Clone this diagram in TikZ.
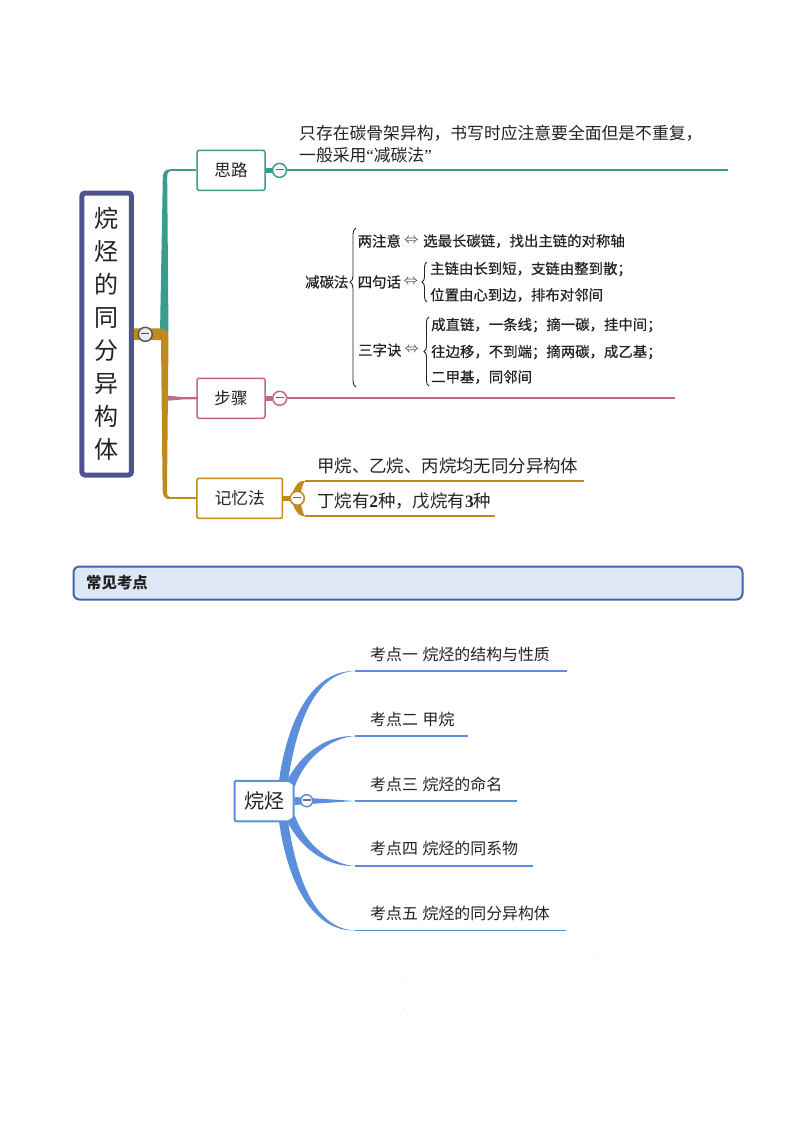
\documentclass[tikz,border=0pt]{standalone}
\usepackage{fontspec}
\setmainfont{Noto Sans CJK SC}
\newfontfamily\latinserif{Liberation Serif}
\newfontfamily\cjkmedium[FakeBold=0.5]{Noto Sans CJK SC}
\usepackage{xcolor}
\usetikzlibrary{calc}
\usetikzlibrary{positioning,arrows.meta,decorations.pathreplacing}
\definecolor{rootblue}{HTML}{4F5491}
\definecolor{tealc}{HTML}{3A9C8E}
\definecolor{rosec}{HTML}{BE6A80}
\definecolor{goldc}{HTML}{BF8A1D}
\definecolor{treeblue}{HTML}{5B8FDB}
\definecolor{bannerfill}{HTML}{DDE7F5}
\definecolor{bannerline}{HTML}{3B68AC}
\definecolor{inkc}{HTML}{222222}
\tikzset{
    lbl/.style={anchor=west, inner sep=0pt, text=inkc},
    lblbig/.style={lbl, font=\fontsize{16.8}{22}\selectfont, align=left},
    lbljiyi/.style={lbl, font=\fontsize{17.4}{22}\selectfont},
    lblsmall/.style={lbl, font=\fontsize{14.4}{18}\selectfont\cjkmedium},
    lbleq/.style={lbl, font=\fontsize{14.4}{18}\selectfont},
    lblkao/.style={lbl, font=\fontsize{15.9}{18}\selectfont},
    branchbox/.style={draw, fill=white, rounded corners=2pt, line width=1.5pt, text=inkc, minimum height=40pt, font=\fontsize{16.6}{20}\selectfont},
    collapse/.style={draw, circle, fill=white, line width=1.5pt, inner sep=0pt, minimum size=14pt, font=\fontsize{6}{6}\selectfont},
    bracel/.style={draw=inkc, line width=0.9pt, decorate, decoration={brace, amplitude=5pt}},
}
\newcommand{\minusbar}[1]{\textcolor{#1}{\rule[1.6pt]{8pt}{1.5pt}}}
\newcommand{\latn}[1]{{\latinserif #1}}
\begin{document}
\begin{tikzpicture}[x=1pt, y=-1pt]
            \useasboundingbox (0,0) rectangle (800,1132);
            \fill[white] (0,0) rectangle (800,1132);

            \draw (106.7,334) node[draw=rootblue, fill=white, rounded corners=3pt, line width=5pt, minimum width=49.5pt, minimum height=282pt, inner sep=0pt, text=inkc, align=center, font=\fontsize{24}{33}\selectfont] (root) {烷\\烃\\的\\同\\分\\异\\构\\体};

            \draw (231,170.4) node[branchbox, draw=tealc, minimum width=68pt] (silu) {思路};
            \draw (231,398.3) node[branchbox, draw=rosec, minimum width=68pt] (buzhou) {步骤};
            \draw (239.7,498.3) node[branchbox, draw=goldc, minimum width=85.5pt] (jiyi) {记忆法};

            \coordinate (siluend) at (728,170.4);
            \coordinate (silucorner) at (170,170.4);
            \coordinate (buzhouend) at (675,398.3);
            \coordinate (jiyicorner) at (170,498.3);
            \coordinate (forkup) at (305,481);
            \coordinate (forkupend) at (584,481);
            \coordinate (forkdown) at (305,516);
            \coordinate (forkdownend) at (495,516);
            \coordinate (forkroot) at (290,498.3);

            \fill[tealc] (160,333) -- (162.8,178) .. controls (163,172) and (165,169.4) .. (170,169.4) -- (170,171.4) .. controls (168,171.4) and (167.2,173) .. (167.2,178) -- (168.5,333) -- cycle;
            \draw[tealc, line width=2pt] (silucorner) -- (silu.west);
            \fill[rosec] (167,395.6) -- (183,397.2) -- (197,397.2) -- (197,399.4) -- (183,399.4) -- (167,400.8) -- cycle;
            \fill[goldc] (root.east |- 0,328.4) -- (160,328.4) .. controls (166,328.4) and (168.5,331) .. (168.5,338) -- (167,490) .. controls (167,495.5) and (168,497.3) .. (170,497.3) -- (170,499.3) .. controls (165,499.3) and (162.8,496) .. (162.6,490) -- (161,340) -- (root.east |- 0,340) -- cycle;
            \draw[goldc, line width=2pt] (jiyicorner) -- (jiyi.west);

            \draw (145.3,334.3) node[collapse, draw=black!65, fill=black!8] (rootminus) {\minusbar{black!70}};
            \draw (279.5,170.4) node[collapse, draw=tealc] (siluminus) {\minusbar{black!60}};
            \draw (279.7,398.3) node[collapse, draw=rosec] (buzhouminus) {\minusbar{black!60}};

            \draw[tealc, line width=4.5pt] (silu.east) -- (siluminus.west);
            \draw[rosec, line width=4.5pt] (buzhou.east) -- (buzhouminus.west);
            \draw[goldc, line width=5pt] (jiyi.east) -- (forkroot);
            \draw[tealc, line width=2pt] (siluminus.east) -- (siluend);
            \draw[rosec, line width=2pt] (buzhouminus.east) -- (buzhouend);
            \draw[goldc, line width=2pt] (forkup) -- (forkupend);
            \draw[goldc, line width=2pt] (forkdown) -- (forkdownend);
            \fill[goldc] (291,498) .. controls (294,487) and (298,480) .. (forkup) .. controls (303,483) and (301,490) .. (300,498) -- cycle;
            \fill[goldc] (291,498) .. controls (294,509) and (298,517) .. (forkdown) .. controls (303,514) and (301,506) .. (300,498) -- cycle;

            \draw (297.3,498.3) node[collapse, draw=goldc] (jiyiminus) {\minusbar{black!60}};

            \draw (299,144) node[lblbig] (silutext) {只存在碳骨架异构，书写时应注意要全面但是不重复，\\一般采用\latn{“}减碳法\latn{”}};
            \draw (317,466) node[lbljiyi] (jiyione) {甲烷、乙烷、丙烷均无同分异构体};
            \draw (317,501) node[lbljiyi] (jiyitwo) {丁烷有\textbf{\latn{2}}种，戊烷有\textbf{\latn{3}}种};

            \draw (305,282) node[lblsmall] (jiantan) {减碳法};
            \draw (357.5,241) node[lblsmall] (liang) {两注意};
            \draw (404,241) node[lbleq] (liangeq) {$\Leftrightarrow$};
            \draw (423,241) node[lblsmall] (liangtext) {选最长碳链，找出主链的对称轴};
            \draw (357.5,282) node[lblsmall] (siju) {四句话};
            \draw (403.5,282) node[lbleq] (sijueq) {$\Leftrightarrow$};
            \draw (430,269) node[lblsmall] (sijuone) {主链由长到短，支链由整到散；};
            \draw (430,295) node[lblsmall] (sijutwo) {位置由心到边，排布对邻间};
            \draw (358,350) node[lblsmall] (sanzi) {三字诀};
            \draw (404.5,350) node[lbleq] (sanzieq) {$\Leftrightarrow$};
            \draw (431,325) node[lblsmall] (sanzione) {成直链，一条线；摘一碳，挂中间；};
            \draw (431,352) node[lblsmall] (sanzitwo) {往边移，不到端；摘两碳，成乙基；};
            \draw (431,377) node[lblsmall] (sanzithree) {二甲基，同邻间};

            \draw[bracel, decoration={amplitude=6pt, aspect=0.66}] (356,387) -- (356,228);
            \draw[bracel] (427,302) -- (427,262);
            \draw[bracel] (429,386) -- (429,317);

            \draw (408,583) node[draw=bannerline, fill=bannerfill, rounded corners=6pt, line width=2pt, minimum width=669pt, minimum height=33pt, inner sep=0pt] (banner) {};
            \draw (86,583) node[lbl, font=\fontsize{15.4}{18}\selectfont\bfseries] (bannertext) {常见考点};

            \draw (264,801) node[draw=treeblue, fill=white, rounded corners=2pt, line width=2pt, minimum width=59pt, minimum height=40.5pt, inner sep=0pt, text=inkc, font=\fontsize{20}{24}\selectfont] (alkane) {烷烃};

            \coordinate (kaoa) at (355,671);
            \coordinate (kaoaend) at (567,671);
            \coordinate (kaob) at (355,736);
            \coordinate (kaobend) at (468,736);
            \coordinate (kaoc) at (355,801);
            \coordinate (kaocend) at (517,801);
            \coordinate (kaod) at (355,866);
            \coordinate (kaodend) at (533,866);
            \coordinate (kaoe) at (355,930.5);
            \coordinate (kaoeend) at (566,930.5);

            \fill[treeblue] (279,781) .. controls (288,715) and (315,670) .. (kaoa) .. controls (318,673) and (298,715) .. (288,781) -- cycle;
            \fill[treeblue] (287,781) .. controls (300,755) and (325,735) .. (kaob) .. controls (330,738) and (305,758) .. (295,786) -- cycle;
            \fill[treeblue] (287,821) .. controls (300,847) and (325,867) .. (kaod) .. controls (330,864) and (305,844) .. (295,816) -- cycle;
            \fill[treeblue] (279,821) .. controls (288,887) and (315,931.5) .. (kaoe) .. controls (318,928.5) and (298,887) .. (288,821) -- cycle;
            \fill[treeblue] (alkane.east |- 0,797) -- (kaoc) -- (alkane.east |- 0,805) -- cycle;

            \draw[treeblue, line width=1.8pt] (kaoa) -- (kaoaend);
            \draw[treeblue, line width=1.8pt] (kaob) -- (kaobend);
            \draw[treeblue, line width=1.8pt] (kaoc) -- (kaocend);
            \draw[treeblue, line width=1.8pt] (kaod) -- (kaodend);
            \draw[treeblue, line width=1.8pt] (kaoe) -- (kaoeend);

            \draw (306.7,800.7) node[collapse, draw=treeblue, minimum size=12pt] (alkaneminus) {\minusbar{black!55}};

            \draw (370,654) node[lblkao] (kaoone) {考点一\hspace{.3em}烷烃的结构与性质};
            \draw (370,719) node[lblkao] (kaotwo) {考点二\hspace{.3em}甲烷};
            \draw (370,784) node[lblkao] (kaothree) {考点三\hspace{.3em}烷烃的命名};
            \draw (370,848) node[lblkao] (kaofour) {考点四\hspace{.3em}烷烃的同系物};
            \draw (370,913) node[lblkao] (kaofive) {考点五\hspace{.3em}烷烃的同分异构体};

            \draw (593,955) node[inner sep=0pt, font=\fontsize{5}{5}\selectfont, text=black!70] (dota) {.};
            \draw (404,980) node[inner sep=0pt, font=\fontsize{5}{5}\selectfont, text=black!70] (dotb) {.};
            \draw (404,1009) node[inner sep=0pt, font=\fontsize{5}{5}\selectfont, text=black!70] (dotc) {.};

            \end{tikzpicture}
\end{document}
